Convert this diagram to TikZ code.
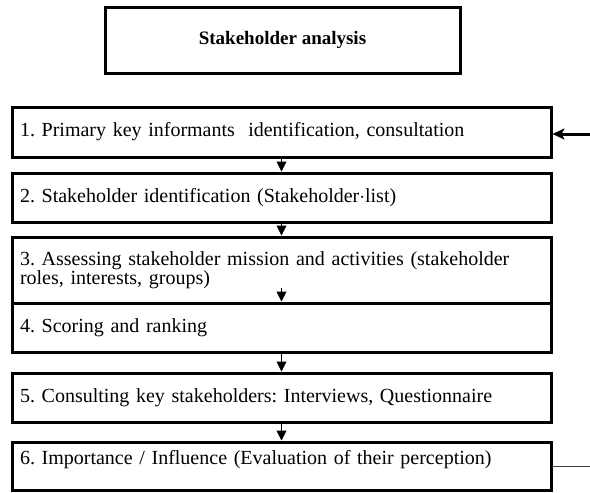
\documentclass[tikz,border=0pt]{standalone}
\usepackage{fontspec}
\setmainfont{Liberation Serif}
\usetikzlibrary{arrows.meta}

\tikzset{
  titlebox/.style={draw, line width=3pt, minimum width=355pt, minimum height=66pt, font=\fontsize{19}{21}\selectfont\bfseries},
  stagebox/.style={draw, line width=3pt, text width=523pt, inner xsep=8pt, align=left, font=\fontsize{20}{18}\selectfont},
  flow/.style={line width=1pt, -{Triangle[width=10pt,length=10pt]}},
}

\begin{document}
\frenchspacing
\begin{tikzpicture}[x=1pt, y=-1pt]
\useasboundingbox (0,0) rectangle (590,493);

\node[titlebox] (title) at (282.5,40) {Stakeholder analysis};

\node[stagebox, minimum height=50pt] (b1) at (281.5,132) {1. Primary key informants\ \ identification, consultation};
\node[stagebox, minimum height=49pt] (b2) at (281.5,197.5) {2. Stakeholder identification (Stakeholder$\cdot$list)};
\node[stagebox, minimum height=66pt] (b3) at (281.5,270) {3. Assessing stakeholder mission and activities (stakeholder\\roles, interests, groups)};
\node[stagebox, minimum height=49pt] (b4) at (281.5,327.5) {4. Scoring and ranking};
\node[stagebox, minimum height=49pt] (b5) at (281.5,397.5) {5. Consulting key stakeholders: Interviews, Questionnaire};
\node[stagebox, minimum height=48pt, text depth=18pt] (b6) at (281.5,466) {6. Importance / Influence (Evaluation of their perception)};

\draw[flow] (b1.south) -- (b2.north);
\draw[flow] (b2.south) -- (b3.north);
\draw[flow] ([yshift=17pt]b3.south) -- (b4.north);
\draw[flow] (b4.south) -- (b5.north);
\draw[flow] (b5.south) -- (b6.north);

\coordinate (loopin) at (590,134);
\coordinate (loopout) at (590,466);
\draw[line width=3pt, -{Stealth[length=12pt, width=11pt, inset=3pt]}] (loopin) -- (b1.east |- loopin);
\draw[line width=1pt, black!75] (b6.east) -- (loopout);
\end{tikzpicture}
\end{document}
